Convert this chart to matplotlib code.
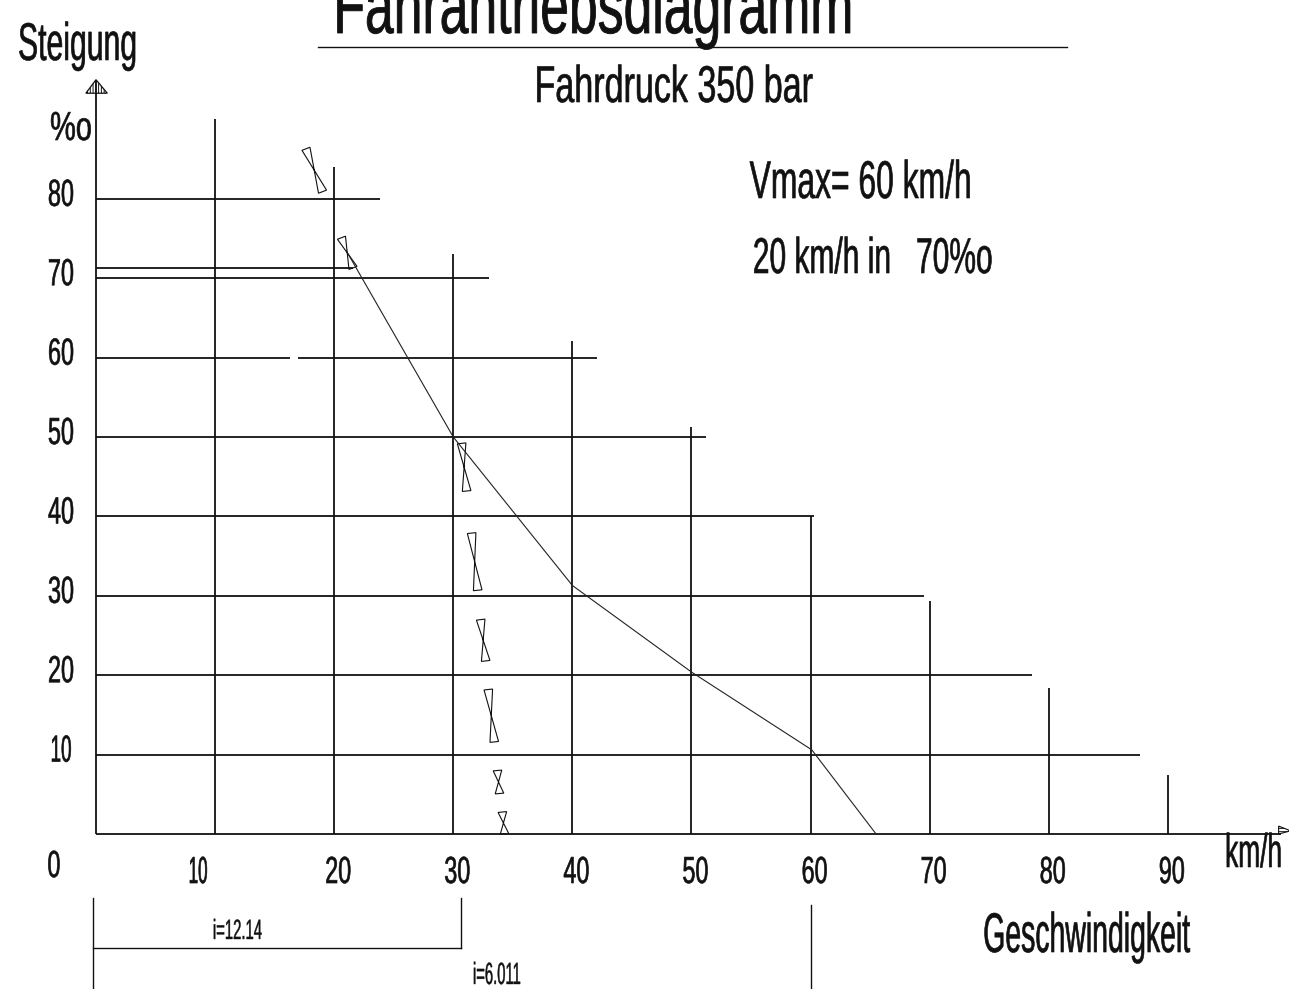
import matplotlib
matplotlib.use('Agg')
import numpy as np
import matplotlib.pyplot as plt
from matplotlib import patheffects
from matplotlib.transforms import Affine2D, ScaledTranslation
from matplotlib.patches import Polygon

# ---------------- data ----------------
x_ticks = [10, 20, 30, 40, 50, 60, 70, 80, 90]
x_tick_labels = ['10', '20', '30', '40', '50', '60', '70', '80', '90']
v_grid_top = [90.0, 84.0, 73.0, 62.1, 51.2, 40.1, 29.4, 18.4, 7.4]

h_grid_y = [80, 71.25, 70, 60, 50, 40, 30, 20, 10]
h_grid_end = [23.85, 21.6, 33.0, 42.1, 51.2, 60.3, 69.5, 78.6, 87.7]
gap_60 = (16.3, 17.0)

y_ticks = [80, 70, 60, 50, 40, 30, 20, 10]
y_tick_labels = ['80', '70', '60', '50', '40', '30', '20', '10']

y_axis_max = 94.9
x_axis_max = 99.5

curve_speed = [21.0, 30.0, 40.0, 50.0, 60.1, 65.5]
curve_grade = [73.5, 50.0, 31.3, 20.4, 10.6, 0.0]

marker_top_x = [17.63, 20.61, 30.70, 31.54, 32.30, 32.94, 33.71, 34.12]
marker_top_y = [86.3, 75.1, 49.2, 37.9, 27.0, 18.2, 8.0, 2.77]
marker_bot_x = [19.02, 21.58, 31.12, 32.05, 32.72, 33.44, 33.88, 34.30]
marker_bot_y = [80.9, 71.3, 43.2, 30.7, 21.8, 11.6, 5.1, 0.0]

gear_labels = ['i=12.14', 'i=6.011']
gear_vmax = [30.65, 60.03]

title = 'Fahrantriebsdiagramm'
subtitle = 'Fahrdruck 350 bar'
note1 = 'Vmax= 60 km/h'
note2 = '20 km/h in   70%o'
y_title = 'Steigung'
y_unit = '%o'
x_title = 'Geschwindigkeit'
x_unit = 'km/h'

# ---------------- style ----------------
W, H = 1289, 989
INK = '#111111'
FONT = 'Liberation Sans'
plt.rcParams['hatch.linewidth'] = 0.7

fig = plt.figure(figsize=(W / 100, H / 100), dpi=100)
fig.patch.set_facecolor('white')
ax = fig.add_axes([0, 0, 1, 1])
ax.set_xlim(-8.06, 100.17)
ax.set_ylim(-19.52, 105.04)
ax.axis('off')
renderer = fig.canvas.get_renderer()


class Tall(patheffects.AbstractPathEffect):
    """Stretch glyphs vertically about their baseline (tall, narrow CAD lettering)."""
    def __init__(self, sy, stroke=0.45):
        super().__init__()
        self.sy = sy
        self.stroke = stroke

    def draw_path(self, renderer, gc, tpath, affine, rgbFace=None):
        ty = affine.get_matrix()[1, 2]
        t = affine + Affine2D().translate(0, -ty).scale(1, self.sy).translate(0, ty)
        gc0 = renderer.new_gc()
        gc0.copy_properties(gc)
        gc0.set_linewidth(self.stroke)
        gc0.set_foreground(rgbFace if rgbFace is not None else INK)
        gc0.set_joinstyle('round')
        renderer.draw_path(gc0, tpath, t, rgbFace)
        gc0.restore()


def fs_from_cap(cap_px):
    return cap_px / 0.716 * 0.72


def tall(t, cap, width=None, ratio=None, stroke=0.45):
    fs0 = fs_from_cap(cap)
    t.set_fontsize(fs0)
    if width is not None:
        w0 = t.get_window_extent(renderer).width
        r = width / w0
    else:
        r = ratio
    t.set_fontsize(fs0 * r)
    t.set_path_effects([Tall(1.0 / r, stroke)])
    return t


def ftext(s, x, base, cap, width=None, ratio=None, ha='center', stroke=0.45):
    t = fig.text(x / W, 1 - base / H, s, ha=ha, va='baseline',
                 family=FONT, color=INK)
    return tall(t, cap, width=width, ratio=ratio, stroke=stroke)


def off(dx, dy):
    return ax.transData + ScaledTranslation(dx / 100, -dy / 100, fig.dpi_scale_trans)


LW_GRID = 1.3
# vertical grid lines (staircase)
for x, top in zip(x_ticks, v_grid_top):
    ax.plot([x, x], [0, top], color=INK, lw=LW_GRID, solid_capstyle='butt')
# horizontal grid lines
for y, end in zip(h_grid_y, h_grid_end):
    if y == 60:
        ax.plot([0, gap_60[0]], [y, y], color=INK, lw=LW_GRID, solid_capstyle='butt')
        ax.plot([gap_60[1], end], [y, y], color=INK, lw=LW_GRID, solid_capstyle='butt')
    else:
        ax.plot([0, end], [y, y], color=INK, lw=LW_GRID, solid_capstyle='butt')

# axes
ax.plot([0, 0], [0, y_axis_max], color=INK, lw=LW_GRID, solid_capstyle='butt')
ax.plot([0, x_axis_max], [0, 0], color=INK, lw=LW_GRID, solid_capstyle='butt')
ax.add_patch(Polygon([(-0.85, 93.3), (0.95, 93.3), (0, 95.0)], closed=True,
                     fill=False, edgecolor=INK, lw=0.9, hatch='||||||'))
ax.add_patch(Polygon([(99.3, 0.0), (99.3, 1.0), (100.3, 0.4)], closed=True,
                     fill=False, edgecolor=INK, lw=0.8, hatch='-----', clip_on=False))

# characteristic curve
ax.plot(curve_speed, curve_grade, color='#222222', lw=0.8)

# bow-tie markers
HW = 4.3  # half width in pixels
T = ax.transData
for xt, yt, xb, yb in zip(marker_top_x, marker_top_y, marker_bot_x, marker_bot_y):
    pt = T.transform((xt, yt))
    pb = T.transform((xb, yb))
    d = pb - pt
    d = d / np.hypot(*d)
    n = np.array([-d[1], d[0]])
    pts = np.array([pt - n * HW, pt + n * HW, pb - n * HW, pb + n * HW])
    pts = T.inverted().transform(pts)
    ax.add_patch(Polygon(pts, closed=True, fill=False, edgecolor=INK, lw=0.8))

# y tick labels
for v, lab in zip(y_ticks, y_tick_labels):
    t = ax.text(0, v, lab, transform=off(-35, 7), ha='center', va='baseline',
                family=FONT, color=INK)
    tall(t, 27, ratio=0.62 if lab != '10' else 0.5)

# x tick labels
for x, lab in zip(x_ticks, x_tick_labels):
    dx = -17 if lab == '10' else 4
    t = ax.text(x, 0, lab, transform=off(dx, 49), ha='center', va='baseline',
                family=FONT, color=INK)
    tall(t, 27, ratio=0.62 if lab != '10' else 0.45)
t0 = ax.text(0, 0, '0', transform=off(-42, 43), ha='center', va='baseline',
             family=FONT, color=INK)
tall(t0, 27, ratio=0.62)

# gear ratio dimension lines
DIM_X0 = -0.25
ax.plot([DIM_X0, DIM_X0], [-8.06, -19.6], color=INK, lw=1.0, clip_on=False)
ax.plot([gear_vmax[0], gear_vmax[0]], [-8.06, -14.36], color=INK, lw=1.0)
ax.plot([DIM_X0, gear_vmax[0]], [-14.36, -14.36], color=INK, lw=1.0)
ax.plot([gear_vmax[1], gear_vmax[1]], [-8.94, -19.6], color=INK, lw=1.0, clip_on=False)

# texts
ftext(title, 593, 33, 57, width=520, stroke=0.6)
ax.plot([(318 - 96) / 11.91, (1067 - 96) / 11.91], [(834 - 47) / 7.94] * 2, color=INK, lw=1.0)
ftext(subtitle, 674, 102, 37, width=278)
ftext(note1, 861, 198, 38, width=222)
ftext(note2, 873, 273, 36, width=240)
ftext(y_title, 18, 60, 38, width=119, ha='left')
ftext(y_unit, 71, 140, 29, width=42)
ftext(x_title, 1086.5, 952, 40, width=207)
ftext(x_unit, 1282, 867, 34, width=57, ha='right')
ftext(gear_labels[0], 237.5, 939, 20, width=49, stroke=0.3)
ftext(gear_labels[1], 497, 984, 22, width=48, stroke=0.3)

fig.savefig('out.png', dpi=100, facecolor='white')
